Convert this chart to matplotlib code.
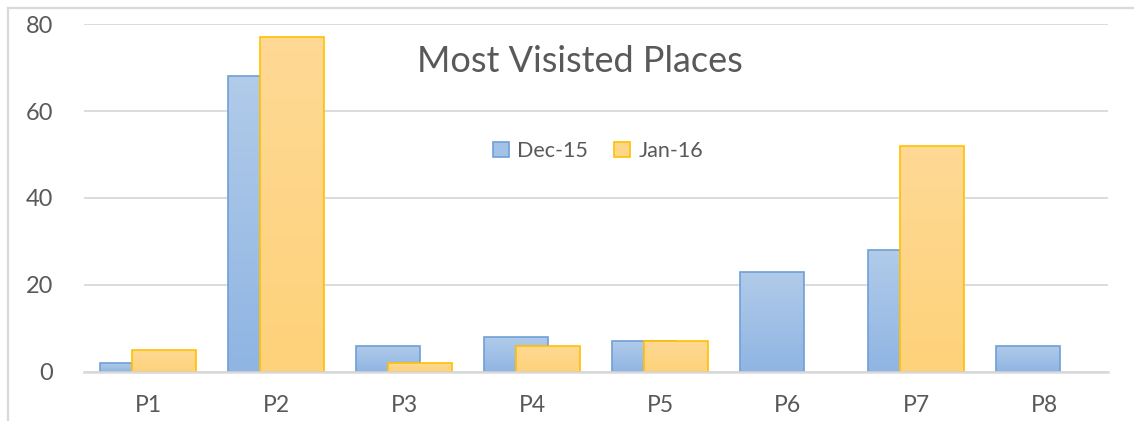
import numpy as np
import matplotlib
matplotlib.use("Agg")
import matplotlib.pyplot as plt
from matplotlib.patches import Patch
from matplotlib.lines import Line2D
from matplotlib.colors import LinearSegmentedColormap

categories = ["P1", "P2", "P3", "P4", "P5", "P6", "P7", "P8"]
dec15 = [2, 68, 6, 8, 7, 23, 28, 6]
jan16 = [5, 77, 2, 6, 7, 0, 52, 0]
series_names = ["Dec-15", "Jan-16"]
yticks = [0, 20, 40, 60, 80]
title = "Most Visisted Places"

plt.rcParams['font.family'] = ['Lato', 'DejaVu Sans']
TXT = '#595959'
GRID = '#d9d9d9'

W, H = 1134, 421
fig = plt.figure(figsize=(W / 100, H / 100), dpi=100)
ax = fig.add_axes([84 / W, 49.3 / H, (1108 - 84) / W, (371.7 - 24.3) / H])

x = np.arange(len(categories))
width = 0.5
offset = 0.125

blue_cmap = LinearSegmentedColormap.from_list('b', ['#8fb5e3', '#b1cbe9'])
orng_cmap = LinearSegmentedColormap.from_list('o', ['#ffd27a', '#fed995'])
grad = np.linspace(0, 1, 256).reshape(-1, 1)

def draw_series(xs, vals, cmap, edge, z):
    bars = ax.bar(xs, vals, width=width, facecolor='none', edgecolor=edge,
                  linewidth=1.2, zorder=z + 0.5)
    for b, v in zip(bars, vals):
        if v <= 0:
            b.set_visible(False)
            continue
        x0 = b.get_x()
        im = ax.imshow(grad, cmap=cmap, origin='lower', aspect='auto',
                       extent=[x0, x0 + b.get_width(), 0, v], zorder=z)
        rect = plt.Rectangle((x0, 0), b.get_width(), v, transform=ax.transData)
        im.set_clip_path(rect)
    return bars

draw_series(x - offset, dec15, blue_cmap, '#6fa0d8', 2)
draw_series(x + offset, jan16, orng_cmap, '#ffc000', 3)

ax.set_xlim(-0.5, len(categories) - 0.5)
ax.set_ylim(0, 80)
ax.set_yticks(yticks)
ax.set_xticks(x)
ax.set_xticklabels(categories)
ax.yaxis.grid(True, color=GRID, linewidth=1.3, zorder=0)
ax.set_axisbelow(True)
for s in ['top', 'right', 'left']:
    ax.spines[s].set_visible(False)
ax.spines['bottom'].set_color(GRID)
ax.spines['bottom'].set_linewidth(1.8)
ax.spines['bottom'].set_zorder(5)
ax.tick_params(axis='both', length=0, colors=TXT, labelsize=17)
ax.tick_params(axis='y', pad=22)
ax.tick_params(axis='x', pad=17, labelsize=16.5)

fig.text(580 / W, 1 - 62 / H, title, ha='center', va='center', fontsize=26, color=TXT)

handles = [Patch(facecolor='#a3c2e8', edgecolor='#6fa0d8', linewidth=1.2),
           Patch(facecolor='#fed68a', edgecolor='#ffc000', linewidth=1.2)]
leg = fig.legend(handles, series_names, loc='center', bbox_to_anchor=(598 / W, 1 - 151 / H),
                 ncol=2, frameon=False, fontsize=15.5, handlelength=0.75, handleheight=0.75,
                 handletextpad=0.4, columnspacing=1.2)
for t in leg.get_texts():
    t.set_color(TXT)

fig.add_artist(Line2D([8 / W, 1], [1 - 8 / H, 1 - 8 / H], transform=fig.transFigure,
                      color=GRID, linewidth=1.6))
fig.add_artist(Line2D([8 / W, 8 / W], [0, 1 - 8 / H], transform=fig.transFigure,
                      color=GRID, linewidth=1.6))

fig.savefig('out.png', dpi=100)
